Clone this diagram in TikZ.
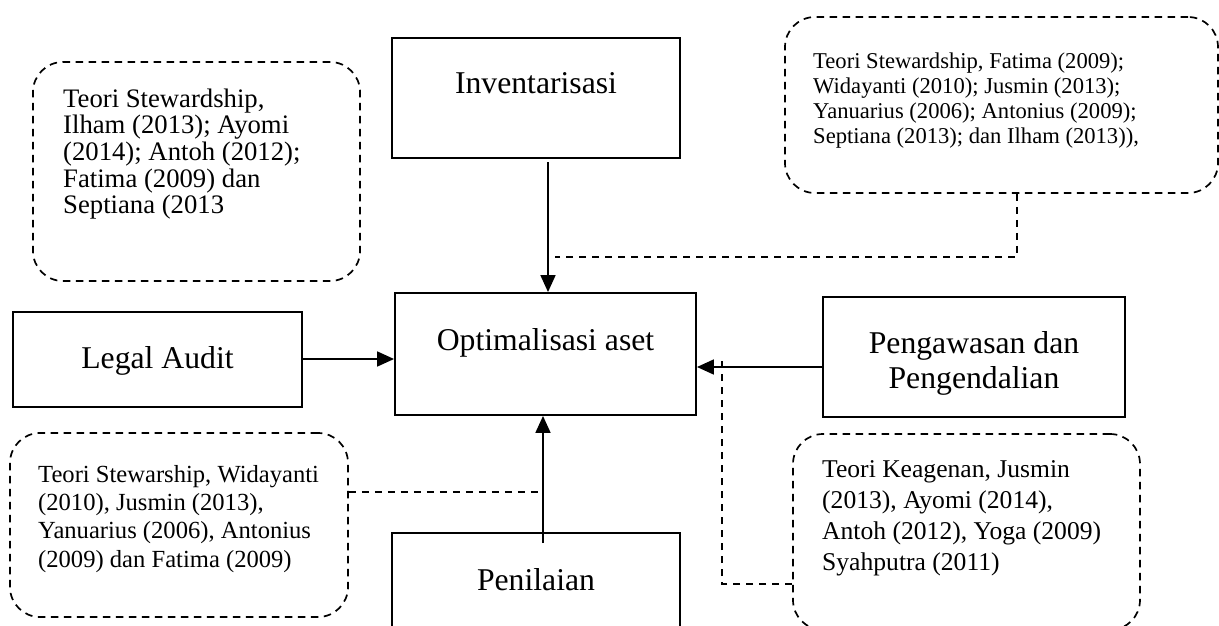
\documentclass[tikz,border=0pt]{standalone}
\usepackage{fontspec}
\setmainfont{Liberation Serif}
\usetikzlibrary{arrows.meta}
\begin{document}
\begin{tikzpicture}[x=1pt,y=-1pt,
  box/.style={draw,line width=1.9pt,rectangle,inner sep=0pt},
  boxtext/.style={anchor=base,inner sep=0pt,font=\fontsize{31.7}{34}\selectfont,align=center},
  callout/.style={draw,dash pattern=on 7.5pt off 5.5pt,line width=1.7pt,rounded corners=30pt,rectangle,inner sep=0pt},
  ctext/.style={anchor=base west,inner sep=0pt,align=left},
  link/.style={draw,dash pattern=on 7.5pt off 5.5pt,line width=1.7pt},
  arr/.style={line width=1.8pt,-{Triangle[length=17pt,width=15pt]}}]
\useasboundingbox (0,0) rectangle (1219,626);
% boxes
\node[box,minimum width=288pt,minimum height=120pt] (inv) at (536,98) {};
\node[boxtext] at (536,94) {Inventarisasi};
\node[box,minimum width=301pt,minimum height=122pt] (opt) at (545.5,354) {};
\node[boxtext] at (545.5,350) {Optimalisasi aset};
\node[box,minimum width=289pt,minimum height=95pt] (legal) at (157.5,359.5) {};
\node[boxtext] at (157.5,368) {Legal Audit};
\node[box,minimum width=302pt,minimum height=120pt] (peng) at (974,357) {};
\node[boxtext] at (974,353) {Pengawasan dan};
\node[boxtext] at (974,388) {Pengendalian};
\node[box,minimum width=288pt,minimum height=110pt] (pen) at (536,588) {};
\node[boxtext] at (536,590) {Penilaian};
% callouts (text anchored at the baseline of its last line)
\node[callout,minimum width=327pt,minimum height=219pt] (ctl) at (196.5,171.5) {};
\node[ctext,font=\fontsize{26.7}{26.7}\selectfont] at (63,213.8) {Teori Stewardship,\\Ilham (2013); Ayomi\\(2014); Antoh (2012);\\Fatima (2009) dan\\Septiana (2013};
\node[callout,minimum width=433pt,minimum height=176pt] (ctr) at (1001.5,105) {};
\node[ctext,font=\fontsize{22.6}{25}\selectfont] at (813,143) {Teori Stewardship, Fatima (2009);\\Widayanti (2010); Jusmin (2013);\\Yanuarius (2006); Antonius (2009);\\Septiana (2013); dan Ilham (2013)),};
\node[callout,minimum width=338pt,minimum height=184pt] (cbl) at (179,525) {};
\node[ctext,font=\fontsize{24.6}{28.3}\selectfont] at (38,567) {Teori Stewarship, Widayanti\\(2010), Jusmin (2013),\\Yanuarius (2006), Antonius\\(2009) dan Fatima (2009)};
\node[callout,minimum width=347pt,minimum height=196pt] (cbr) at (966.5,532) {};
\node[ctext,font=\fontsize{25.6}{31}\selectfont] at (822,570) {Teori Keagenan, Jusmin\\(2013), Ayomi (2014),\\Antoh (2012), Yoga (2009)\\Syahputra (2011)};
% arrows
\coordinate (invs) at (548,162);
\draw[arr] (invs) -- (548,0 |- opt.north);
\draw[arr] (legal.east |- 0,359) -- (opt.west |- 0,359);
\draw[arr] (peng.west |- 0,367) -- (opt.east |- 0,367);
\coordinate (pens) at (543,543);
\draw[arr] (pens) -- (543,0 |- opt.south);
% dashed links
\coordinate (l1) at (555,257);
\coordinate (l2) at (540,492);
\coordinate (l3) at (722,358);
\draw[link] (ctr.south -| 1017,0) |- (l1);
\draw[link] (cbl.east |- l2) -- (l2);
\draw[link] (cbr.west |- 0,584) -| (l3);
\end{tikzpicture}
\end{document}
